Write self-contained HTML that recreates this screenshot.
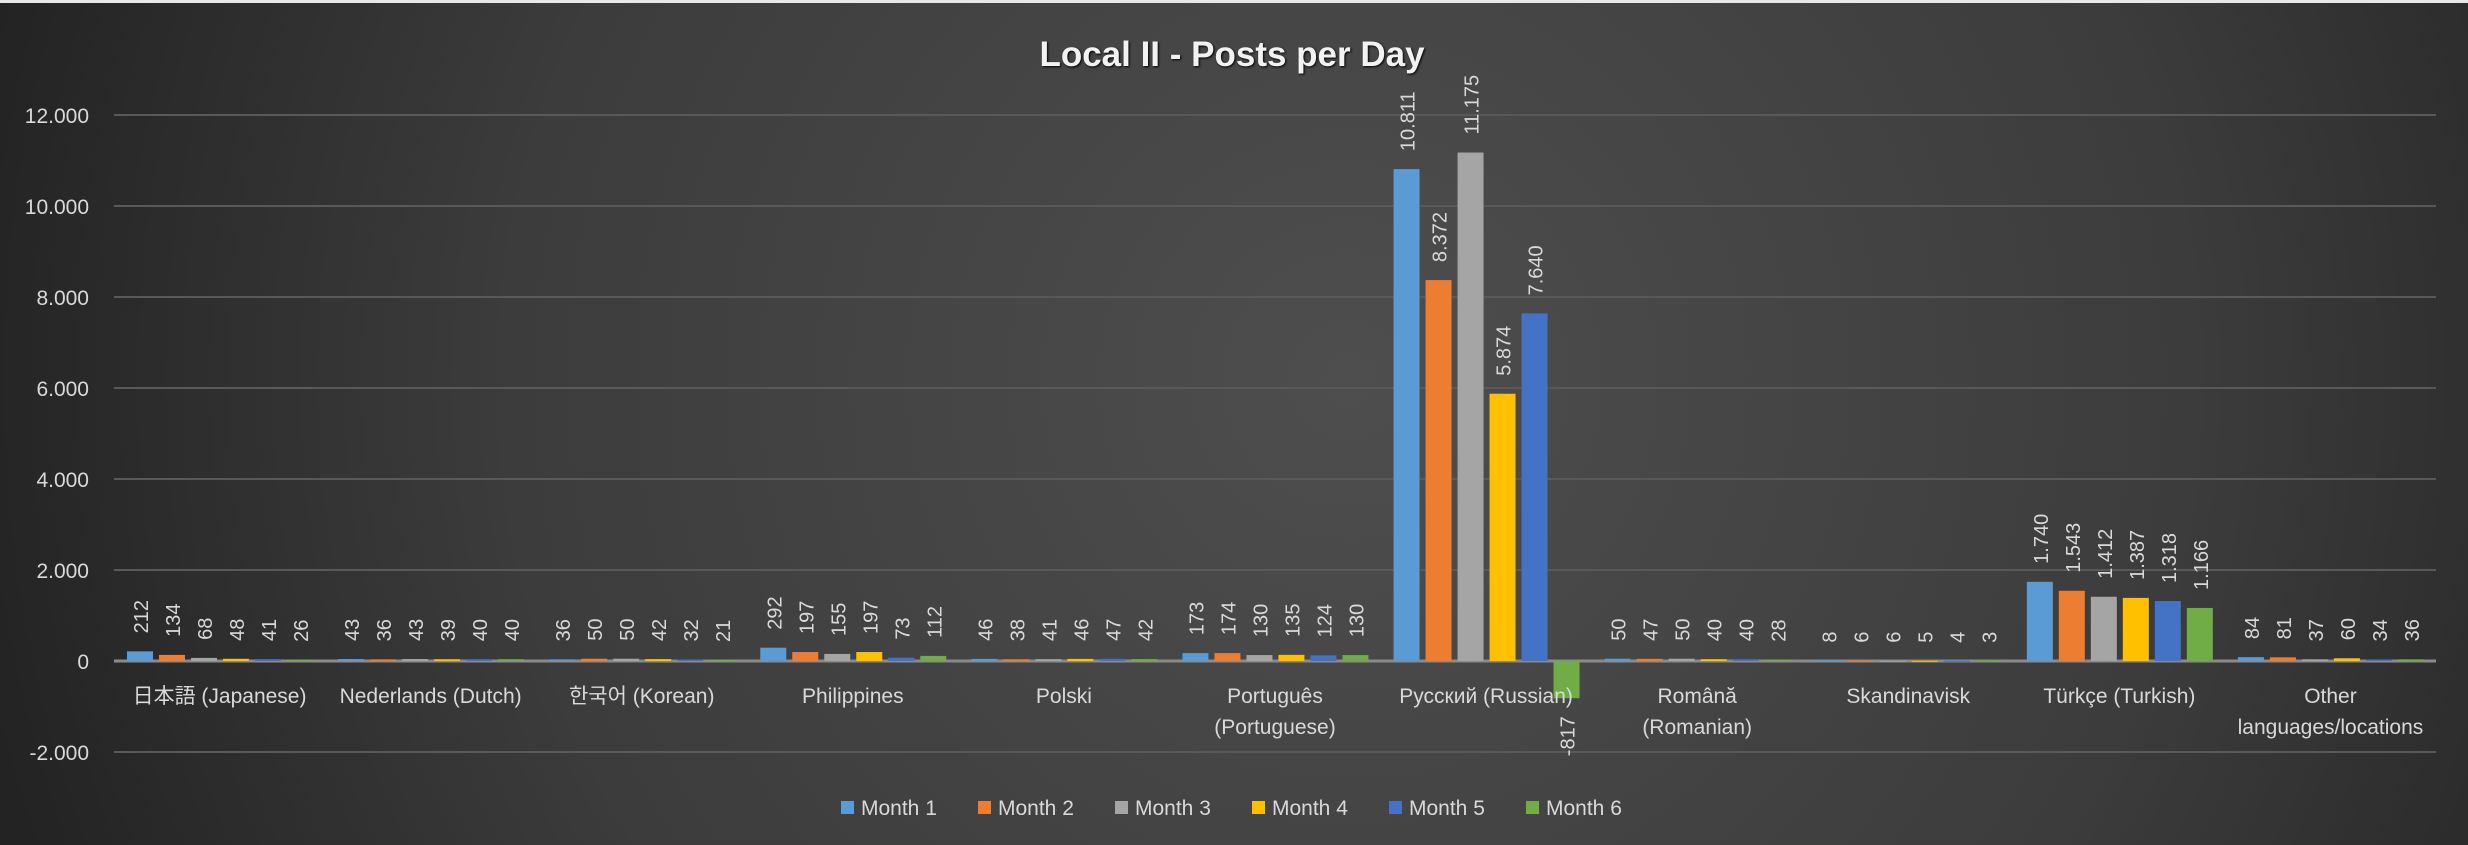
<!DOCTYPE html>
<html><head><meta charset="utf-8">
<style>
html,body{margin:0;padding:0;background:#333;}
svg{display:block;}
text{font-family:"Liberation Sans","Noto Sans CJK JP","Noto Sans CJK KR",sans-serif;}
</style></head>
<body>
<svg id="chart" width="2468" height="845" viewBox="0 0 2468 845" xmlns="http://www.w3.org/2000/svg">
<defs>
<radialGradient id="bg" cx="1350" cy="380" r="1400" gradientUnits="userSpaceOnUse">
<stop offset="0" stop-color="#4e4e4e"/><stop offset="0.6" stop-color="#3c3c3c"/><stop offset="1" stop-color="#232323"/>
</radialGradient>
</defs>
<rect x="0" y="0" width="2468" height="845" fill="url(#bg)"/>
<rect x="0" y="0" width="2468" height="3" fill="#e8e8e8"/>
<text x="1232" y="66" text-anchor="middle" font-size="35" font-weight="bold" fill="#f2f2f2" style="text-shadow:1px 1px 2px #000">Local II - Posts per Day</text>
<g id="grid"></g><g id="bars"></g><g id="labels"></g><g id="legend"></g>
</svg>
<script>
const categories=[["日本語 (Japanese)"],["Nederlands (Dutch)"],["한국어 (Korean)"],["Philippines"],["Polski"],["Português","(Portuguese)"],["Русский (Russian)"],["Română","(Romanian)"],["Skandinavisk"],["Türkçe (Turkish)"],["Other","languages/locations"]];
const seriesNames=["Month 1","Month 2","Month 3","Month 4","Month 5","Month 6"];
const month1=[212,43,36,292,46,173,10811,50,8,1740,84];
const month2=[134,36,50,197,38,174,8372,47,6,1543,81];
const month3=[68,43,50,155,41,130,11175,50,6,1412,37];
const month4=[48,39,42,197,46,135,5874,40,5,1387,60];
const month5=[41,40,32,73,47,124,7640,40,4,1318,34];
const month6=[26,40,21,112,42,130,-817,28,3,1166,36];
const yTicks=[-2000,0,2000,4000,6000,8000,10000,12000];

const series=[month1,month2,month3,month4,month5,month6];
const colors=["#5b9bd5","#ed7d31","#a5a5a5","#ffc000","#4472c4","#70ad47"];
const NS="http://www.w3.org/2000/svg";
const plotL=114,plotR=2436,y0=661,pxPer=(752-661)/2000;
const catW=(plotR-plotL)/categories.length;
function yS(v){return y0-v*pxPer;}
function xS(ci,si){return plotL+ci*catW+13+si*32;}
function fmt(v){const s=Math.abs(v).toString().replace(/\B(?=(\d{3})+(?!\d))/g,".");return (v<0?"-":"")+s;}
function mk(tag,attrs,parent){const e=document.createElementNS(NS,tag);for(const k in attrs)e.setAttribute(k,attrs[k]);parent.appendChild(e);return e;}
const grid=document.getElementById('grid'),bars=document.getElementById('bars'),labels=document.getElementById('labels'),legend=document.getElementById('legend');
yTicks.forEach(t=>{
  const l=mk('line',{x1:plotL,x2:plotR,y1:yS(t),y2:yS(t),stroke:t===0?'#8a8a8a':'#595959','stroke-width':t===0?3:2},grid);
  
  
  const tx=mk('text',{x:89,y:yS(t)+8,'text-anchor':'end','font-size':21,fill:'#d9d9d9'},grid);
  tx.textContent=fmt(t);
  
  
});
series.forEach((vals,si)=>{
  vals.forEach((v,ci)=>{
    const x=xS(ci,si),top=Math.min(yS(v),y0),h=Math.abs(yS(v)-y0);
    const r=mk('rect',{x:x,y:top,width:26,height:Math.max(h,1),fill:colors[si]},bars);
    
    
    const cx=x+13+8;
    const ly=v>=0?yS(v)-18:yS(v)+18;
    const t=mk('text',{x:cx,y:ly,transform:`rotate(-90 ${cx} ${ly})`,'text-anchor':v>=0?'start':'end','font-size':20,fill:'#d9d9d9'},labels);
    t.textContent=fmt(v);
    
    
  });
});
categories.forEach((lines,ci)=>{
  const cx=plotL+ci*catW+catW/2;
  lines.forEach((ln,i)=>{
    const t=mk('text',{x:cx,y:703+i*31,'text-anchor':'middle','font-size':21,fill:'#d9d9d9'},labels);
    t.textContent=ln;
    
    
  });
});
seriesNames.forEach((n,si)=>{
  const x=841+si*137;
  const g=mk('g',{},legend);
  
  
  mk('rect',{x:x,y:801,width:13,height:13,fill:colors[si]},g);
  const t=mk('text',{x:x+20,y:815,'font-size':21,fill:'#d9d9d9'},g);
  t.textContent=n;
});
</script>
</body></html>
